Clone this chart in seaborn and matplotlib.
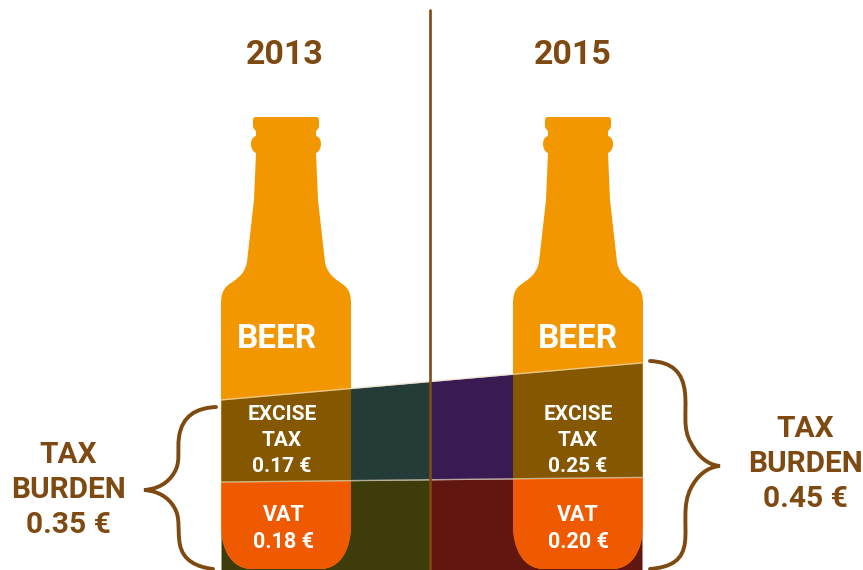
import matplotlib
matplotlib.use('Agg')
import matplotlib.pyplot as plt
import numpy as np
import seaborn as sns
from matplotlib.patches import PathPatch
from matplotlib.path import Path

# Data
years = ['2013', '2015']
excise_tax = [0.17, 0.25]
vat = [0.18, 0.20]
tax_burden = [0.35, 0.45]

BROWN = '#7f4a12'
ORANGE = '#f39700'
EXCISE_COL = '#845700'
VAT_COL = '#ef5900'
DARK_EXCISE = ['#243b38', '#3a1a52']
DARK_VAT = ['#3d3c0a', '#621610']

sns.set_theme(style='white')
plt.rcParams['font.family'] = ['Roboto', 'DejaVu Sans']

# the picture is laid out in pixels, y pointing down
fig, ax = plt.subplots(figsize=(8.63, 5.70), dpi=100)
fig.subplots_adjust(0, 0, 1, 1)
ax.set_xlim(0, 863)
ax.set_ylim(570, 0)
ax.axis('off')

BOTTOM = 569
EDGES = [221, 642]
SPLIT = 430
# pixels per euro, one for each bottle
PX_PER_EURO = [483, 458]
SHIFT = [0, 292]

# right half of the bottle, all cubic segments, mirrored for the left half
half = [(286, 117),
        (286, 117), (316, 117), (316, 117),
        (318, 117), (319, 118), (319, 121),
        (319, 121), (319, 126), (319, 126),
        (319, 129), (316, 130), (316, 132),
        (316, 132), (316, 136), (316, 136),
        (320, 137), (321, 141), (321, 144),
        (321, 148), (319, 152), (316, 153),
        (316, 153), (318, 200), (318, 200),
        (318, 200), (325, 262), (325, 262),
        (328, 277), (338, 280), (345, 286),
        (350, 291), (351, 296), (351, 305),
        (351, 305), (351, 525), (351, 525),
        (351, 550), (340, 569), (320, 569),
        (320, 569), (286, 569), (286, 569)]
half = np.array(half, dtype=float)
mirror = half[::-1][1:].copy()
mirror[:, 0] = 572 - mirror[:, 0]
outline = np.vstack([half, mirror])
codes = [Path.MOVETO] + [Path.CURVE4] * (len(outline) - 1)


def edge_line(values):
    # y of a slanted line running from the left bottle edge to the right one
    return [BOTTOM - v * s for v, s in zip(values, PX_PER_EURO)]


vat_line = edge_line(vat)
top_line = edge_line(tax_burden)
xs = np.array([EDGES[0], SPLIT, EDGES[1]], dtype=float)
vat_y = np.interp(xs, EDGES, vat_line)
top_y = np.interp(xs, EDGES, top_line)

# dark bands behind the bottles
for i, (a, b) in enumerate([(0, 1), (1, 2)]):
    ax.fill_between(xs[a:b + 1], vat_y[a:b + 1], top_y[a:b + 1], color=DARK_EXCISE[i], lw=0, zorder=1)
    ax.fill_between(xs[a:b + 1], BOTTOM + 1, vat_y[a:b + 1], color=DARK_VAT[i], lw=0, zorder=1)

# bottles with the bright bands clipped to them
for i, year in enumerate(years):
    verts = outline + [SHIFT[i], 0]
    bottle = PathPatch(Path(verts, codes), facecolor=ORANGE, edgecolor='none', zorder=2)
    ax.add_patch(bottle)
    band1 = ax.fill_between(xs, vat_y, top_y, color=EXCISE_COL, lw=0, zorder=3)
    band2 = ax.fill_between(xs, BOTTOM + 1, vat_y, color=VAT_COL, lw=0, zorder=3)
    band1.set_clip_path(bottle)
    band2.set_clip_path(bottle)

# thin pale lines between the bands, and the divider
line_opts = dict(estimator=None, errorbar=None, sort=False, ax=ax, legend=False)
sns.lineplot(x=EDGES, y=top_line, color='#e9dcc0', lw=1, alpha=0.7, zorder=4, **line_opts)
sns.lineplot(x=EDGES, y=vat_line, color='#e9dcc0', lw=1, alpha=0.7, zorder=4, **line_opts)
sns.lineplot(x=[SPLIT, SPLIT], y=[10, BOTTOM], color=BROWN, lw=1.9, zorder=5, **line_opts)

# curly braces
left_brace = [(216, 407), (196, 408), (182, 416), (179, 437),
              (177, 452), (181, 462), (174, 473),
              (168, 483), (158, 489), (144, 490),
              (158, 491), (168, 497), (174, 507),
              (181, 518), (177, 530), (180, 545),
              (183, 560), (196, 567), (213, 569)]
right_brace = [(650, 361), (672, 362), (683, 372), (685, 393),
               (687, 412), (682, 428), (691, 443),
               (697, 455), (707, 465), (720, 466),
               (707, 467), (697, 476), (691, 488),
               (682, 505), (687, 525), (685, 542),
               (683, 560), (672, 567), (650, 569)]
for pts in [left_brace, right_brace]:
    brace_codes = [Path.MOVETO] + [Path.CURVE4] * (len(pts) - 1)
    ax.add_patch(PathPatch(Path(pts, brace_codes), fill=False, edgecolor=BROWN, lw=2.8,
                           capstyle='round', zorder=5))

# text
for i, x in enumerate([285, 573]):
    ax.text(x, 55, years[i], color=BROWN, fontsize=24.5, fontweight='bold', ha='center', va='center')

white = dict(color='white', fontweight='bold', ha='center', va='center', zorder=6)
for i, (beer_x, tax_x, vat_x) in enumerate([(277, 282, 284), (578, 578, 578)]):
    ax.text(beer_x, 339, 'BEER', fontsize=24, **white)
    ax.text(tax_x, 415, 'EXCISE', fontsize=15, **white)
    ax.text(tax_x, 441, 'TAX', fontsize=15, **white)
    ax.text(tax_x, 466, f'{excise_tax[i]:.2f} €', fontsize=15, **white)
    ax.text(vat_x, 515, 'VAT', fontsize=15.5, **white)
    ax.text(vat_x, 542, f'{vat[i]:.2f} €', fontsize=15.5, **white)

for i, (x, y0) in enumerate([(68, 455), (805, 429)]):
    for j, label in enumerate(['TAX', 'BURDEN', f'{tax_burden[i]:.2f} €']):
        ax.text(x, y0 + 35 * j, label, color=BROWN, fontsize=21.5, fontweight='bold', ha='center', va='center')

fig.savefig('out.png', dpi=100)
